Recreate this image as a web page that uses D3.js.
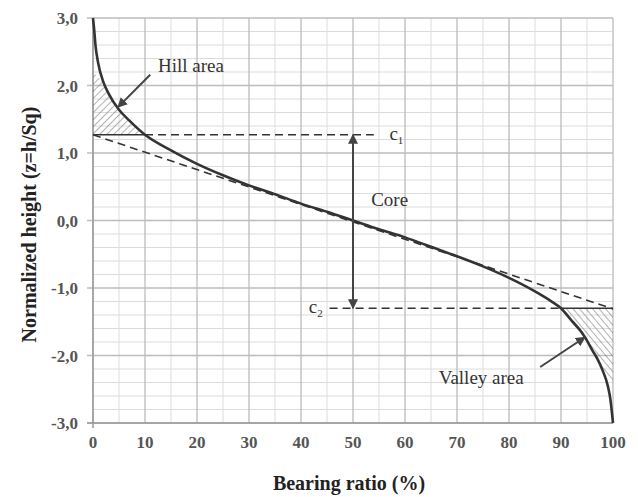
<!DOCTYPE html>
<html>
<head>
<meta charset="utf-8">
<script src="https://cdn.jsdelivr.net/npm/d3@7"></script>
<style>
  body { margin: 0; background: #fff; }
  text { font-family: "Liberation Serif", "DejaVu Serif", serif; }
</style>
</head>
<body>
<svg id="chart" width="638" height="497"></svg>
<script>
// bearing ratio curve
var ratio  = [0, 0.2, 0.5, 1, 2, 3, 5, 7, 10, 15, 20, 25, 30, 35, 40, 45, 50, 55, 60, 65, 70, 75, 80, 85, 88, 90, 92, 94, 95, 96, 97, 98, 99, 99.5, 99.8, 100]
var height = [3.0, 2.85, 2.58, 2.33, 2.05, 1.88, 1.64, 1.48, 1.27, 1.04, 0.84, 0.67, 0.52, 0.39, 0.25, 0.13, 0.0, -0.13, -0.25, -0.39, -0.53, -0.68, -0.85, -1.05, -1.19, -1.30, -1.48, -1.66, -1.78, -1.92, -2.05, -2.22, -2.45, -2.65, -2.85, -3.0]

var xTicks = [0, 10, 20, 30, 40, 50, 60, 70, 80, 90, 100]
var yTicks = [3, 2, 1, 0, -1, -2, -3]

// levels
var c1 = 1.27
var c2 = -1.30
var secant = [[0, 1.27], [100, -1.31]]
var hillTop = 2.2
var valleyBottom = -2.4

var svg = d3.select('#chart')
var margin = {left: 93, top: 18, right: 25, bottom: 74}
var w = 638 - margin.left - margin.right
var h = 497 - margin.top - margin.bottom

var x = d3.scaleLinear().domain([0, 100]).range([margin.left, margin.left + w])
var y = d3.scaleLinear().domain([-3, 3]).range([margin.top + h, margin.top])

var defs = svg.append('defs')
defs.append('pattern').attr('id', 'hatchA').attr('patternUnits', 'userSpaceOnUse')
  .attr('width', 5).attr('height', 5).attr('patternTransform', 'rotate(45)')
  .append('line').attr('x1', 0).attr('y1', 0).attr('x2', 0).attr('y2', 5)
  .attr('stroke', '#666').attr('stroke-width', 1)
defs.append('pattern').attr('id', 'hatchB').attr('patternUnits', 'userSpaceOnUse')
  .attr('width', 5).attr('height', 5).attr('patternTransform', 'rotate(-40)')
  .append('line').attr('x1', 0).attr('y1', 0).attr('x2', 0).attr('y2', 5)
  .attr('stroke', '#666').attr('stroke-width', 1)
defs.append('marker').attr('id', 'head').attr('viewBox', '0 0 10 10')
  .attr('refX', 9).attr('refY', 5).attr('markerWidth', 5).attr('markerHeight', 5)
  .attr('orient', 'auto-start-reverse').attr('markerUnits', 'strokeWidth')
  .append('path').attr('d', 'M0,0 L10,5 L0,10 z').attr('fill', '#444')

// grid
var g = svg.append('g')
g.selectAll('.vmin').data(d3.range(5, 100, 10)).enter().append('line')
  .attr('x1', function(d){ return x(d) }).attr('x2', function(d){ return x(d) })
  .attr('y1', y(3)).attr('y2', y(-3)).attr('stroke', '#dcdcdc')
g.selectAll('.hmin').data(d3.range(-2.8, 3, 0.2).filter(function(d){ return Math.abs(d - Math.round(d)) > 0.05 })).enter().append('line')
  .attr('x1', x(0)).attr('x2', x(100))
  .attr('y1', function(d){ return y(d) }).attr('y2', function(d){ return y(d) }).attr('stroke', '#dcdcdc')
g.selectAll('.vmaj').data(xTicks).enter().append('line')
  .attr('x1', function(d){ return x(d) }).attr('x2', function(d){ return x(d) })
  .attr('y1', y(3)).attr('y2', y(-3)).attr('stroke', '#bcbcbc').attr('stroke-width', 1.3)
g.selectAll('.hmaj').data(yTicks).enter().append('line')
  .attr('x1', x(0) - 6).attr('x2', x(100))
  .attr('y1', function(d){ return y(d) }).attr('y2', function(d){ return y(d) }).attr('stroke', '#bcbcbc').attr('stroke-width', 1.3)
svg.append('line').attr('x1', x(0)).attr('x2', x(0)).attr('y1', y(3)).attr('y2', y(-3) + 5)
  .attr('stroke', '#999').attr('stroke-width', 1.5)
svg.append('line').attr('x1', x(0) - 6).attr('x2', x(100)).attr('y1', y(-3)).attr('y2', y(-3))
  .attr('stroke', '#999').attr('stroke-width', 1.5)

// axis labels
svg.selectAll('.yl').data(yTicks).enter().append('text')
  .attr('x', x(0) - 15).attr('y', function(d){ return y(d) + 6 })
  .attr('text-anchor', 'end').attr('font-size', 17).attr('font-weight', 'bold').attr('fill', '#555')
  .text(function(d){ return d3.format('.1f')(d).replace('.', ',').replace('−', '-') })
svg.selectAll('.xl').data(xTicks).enter().append('text')
  .attr('x', function(d){ return x(d) }).attr('y', y(-3) + 25)
  .attr('text-anchor', 'middle').attr('font-size', 17).attr('font-weight', 'bold').attr('fill', '#555')
  .text(function(d){ return d })
svg.append('text').attr('x', x(50) - 4).attr('y', 490).attr('text-anchor', 'middle')
  .attr('font-size', 20).attr('font-weight', 'bold').attr('fill', '#222').text('Bearing ratio (%)')
svg.append('text').attr('transform', 'translate(36,' + (y(0) + 4) + ') rotate(-90)').attr('text-anchor', 'middle')
  .attr('font-size', 20).attr('font-weight', 'bold').attr('fill', '#222').text('Normalized height (z=h/Sq)')

var pts = ratio.map(function(r, i){ return [r, height[i]] })
var line = d3.line().x(function(d){ return x(d[0]) }).y(function(d){ return y(d[1]) }).curve(d3.curveMonotoneX)

// hatched areas
var hill = pts.filter(function(d){ return d[1] <= hillTop && d[1] >= c1 })
var hillPoly = [[0, hillTop]].concat(hill).concat([[0, c1]])
svg.append('path').attr('d', d3.line().x(function(d){ return x(d[0]) }).y(function(d){ return y(d[1]) })(hillPoly))
  .attr('fill', 'url(#hatchA)')
var valley = pts.filter(function(d){ return d[1] <= c2 && d[1] >= valleyBottom })
var valleyPoly = [[100, c2]].concat(valley).concat([[100, valleyBottom]])
svg.append('path').attr('d', d3.line().x(function(d){ return x(d[0]) }).y(function(d){ return y(d[1]) })(valleyPoly))
  .attr('fill', 'url(#hatchB)')

// levels c1, c2
svg.append('line').attr('x1', x(0)).attr('x2', x(10)).attr('y1', y(c1)).attr('y2', y(c1))
  .attr('stroke', '#333').attr('stroke-width', 1.6)
svg.append('line').attr('x1', x(10)).attr('x2', x(54)).attr('y1', y(c1)).attr('y2', y(c1))
  .attr('stroke', '#333').attr('stroke-width', 1.6).attr('stroke-dasharray', '8,5')
svg.append('line').attr('x1', x(45.5)).attr('x2', x(90)).attr('y1', y(c2)).attr('y2', y(c2))
  .attr('stroke', '#333').attr('stroke-width', 1.6).attr('stroke-dasharray', '8,5')
svg.append('line').attr('x1', x(90)).attr('x2', x(100)).attr('y1', y(c2)).attr('y2', y(c2))
  .attr('stroke', '#333').attr('stroke-width', 1.6)
svg.append('line').attr('x1', x(secant[0][0])).attr('y1', y(secant[0][1]))
  .attr('x2', x(secant[1][0])).attr('y2', y(secant[1][1]))
  .attr('stroke', '#333').attr('stroke-width', 1.6).attr('stroke-dasharray', '8,5')

// the curve
svg.append('path').attr('d', line(pts)).attr('fill', 'none').attr('stroke', '#333').attr('stroke-width', 2.6)

// core arrow
svg.append('line').attr('x1', x(50)).attr('x2', x(50)).attr('y1', y(c1)).attr('y2', y(c2))
  .attr('stroke', '#444').attr('stroke-width', 2)
  .attr('marker-start', 'url(#head)').attr('marker-end', 'url(#head)')

// annotations
svg.append('line').attr('x1', x(11)).attr('y1', y(2.16)).attr('x2', x(4.8)).attr('y2', y(1.68))
  .attr('stroke', '#444').attr('stroke-width', 2).attr('marker-end', 'url(#head)')
svg.append('line').attr('x1', x(86)).attr('y1', y(-2.17)).attr('x2', x(94.6)).attr('y2', y(-1.73))
  .attr('stroke', '#444').attr('stroke-width', 2).attr('marker-end', 'url(#head)')

var lab = svg.append('g').attr('font-size', 19).attr('fill', '#333')
lab.append('text').attr('x', x(12.5)).attr('y', y(2.2)).text('Hill area')
lab.append('text').attr('x', x(53.5)).attr('y', y(0.22)).text('Core')
lab.append('text').attr('x', x(66.5)).attr('y', y(-2.42)).text('Valley area')
var t1 = lab.append('text').attr('x', x(57)).attr('y', y(c1) + 5)
t1.append('tspan').text('c')
t1.append('tspan').attr('font-size', 11).attr('dy', 4).text('1')
var t2 = lab.append('text').attr('x', x(41.5)).attr('y', y(c2) + 5)
t2.append('tspan').text('c')
t2.append('tspan').attr('font-size', 11).attr('dy', 4).text('2')
</script>
</body>
</html>
